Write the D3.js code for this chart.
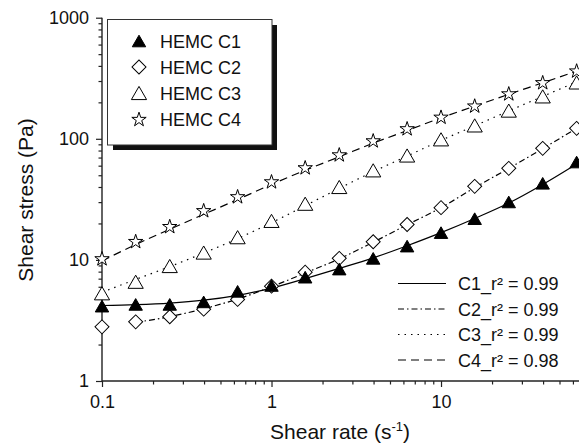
<!DOCTYPE html>
<html><head><meta charset="utf-8">
<script src="https://cdn.jsdelivr.net/npm/d3@7"></script>
<style>
body{margin:0;background:#fff}
svg{display:block}
text{font-family:"Liberation Sans",Arial,Helvetica,sans-serif;fill:#111}
</style>
</head><body>
<svg id="chart" width="579" height="445"></svg>
<script>
// ---- data ----
const shearRate = [0.1, 0.158, 0.251, 0.398, 0.631, 1, 1.58, 2.51, 3.98, 6.31, 10, 15.8, 25.1, 39.8, 63.1];
const hemcC1 = [4.15, 4.29, 4.29, 4.5, 5.5, 6.15, 7.2, 8.4, 10.3, 13.0, 16.8, 21.9, 30.1, 42.9, 64.3];
const hemcC2 = [2.8, 3.08, 3.39, 3.92, 4.72, 6.07, 7.92, 10.3, 14.1, 19.6, 27.0, 40.5, 57.0, 83.4, 122];
const hemcC3 = [5.3, 6.6, 8.9, 11.5, 15.4, 21.0, 29.1, 40.0, 54.9, 72.8, 99, 129, 171, 224, 292];
const hemcC4 = [10.3, 14.3, 19.0, 25.7, 33.5, 44.5, 58.1, 74.3, 97, 122, 152, 188, 237, 293, 366];
// fitted model curves, read at the same shear rates (C2 fit starts at 0.158)
const fitC1 = [4.2, 4.27, 4.4, 4.65, 5.1, 5.85, 7.0, 8.5, 10.4, 13.1, 16.8, 22, 29.5, 42, 62];
const fitC2 = [null, 3.05, 3.4, 3.95, 4.75, 6.0, 7.8, 10.2, 14.0, 19.5, 27, 39.5, 57, 83, 122];
const fitC3 = [5.4, 6.9, 8.8, 11.4, 15.0, 20.3, 28, 39, 53.5, 72, 97, 128, 170, 224, 295];
const fitC4 = [9.8, 13.4, 17.9, 23.8, 31.5, 42, 55, 71, 92, 117, 149, 186, 233, 290, 362];
const seriesNames = ["HEMC C1", "HEMC C2", "HEMC C3", "HEMC C4"];
const fitLabels = ["C1_r\u00B2 = 0.99", "C2_r\u00B2 = 0.99", "C3_r\u00B2 = 0.99", "C4_r\u00B2 = 0.98"];
const yTickValues = [1, 10, 100, 1000];
const xTickValues = [0.1, 1, 10];
const xTickLabels = ["0.1", "1", "10"];
const xTitle = "Shear rate (s";
const yTitle = "Shear stress (Pa)";

// ---- layout ----
const svg = d3.select("#chart");
const X0 = 102, X1 = 579, Y0 = 381, Y1 = 17.7;
const x = d3.scaleLog().domain([0.1, Math.pow(10, 1.814)]).range([X0, X1]);
const y = d3.scaleLog().domain([1, 1000]).range([Y0, Y1]);

const series = [
  {name: seriesNames[0], vals: hemcC1, fit: fitC1, sym: "triFilled", dash: null},
  {name: seriesNames[1], vals: hemcC2, fit: fitC2, sym: "diamond", dash: "6,3,1.5,3"},
  {name: seriesNames[2], vals: hemcC3, fit: fitC3, sym: "triOpen", dash: "1.5,5"},
  {name: seriesNames[3], vals: hemcC4, fit: fitC4, sym: "star", dash: "8,5"}
];

function drawSymbol(g, kind, cx, cy) {
  if (kind === "triFilled" || kind === "triOpen") {
    const size = kind === "triFilled" ? 78 : 100;
    const h = Math.sqrt(size / (3 * Math.sqrt(3)));
    g.append("path")
      .attr("d", d3.symbol(d3.symbolTriangle, size)())
      .attr("transform", `translate(${cx},${cy + h / 2})`)
      .attr("fill", kind === "triFilled" ? "#000" : "#fff")
      .attr("stroke", "#000").attr("stroke-width", 1);
  } else if (kind === "diamond") {
    g.append("path")
      .attr("d", d3.symbol(d3.symbolSquare, 98)())
      .attr("transform", `translate(${cx},${cy}) rotate(45)`)
      .attr("fill", "#fff").attr("stroke", "#000").attr("stroke-width", 1);
  } else if (kind === "star") {
    g.append("path")
      .attr("d", d3.symbol(d3.symbolStar, 64)())
      .attr("transform", `translate(${cx},${cy + 0.7})`)
      .attr("fill", "#fff").attr("stroke", "#000").attr("stroke-width", 1);
  }
}

// ---- axes ----
const majorLen = 6, minorLen = 3.5;
const yMinor = y.ticks().filter(v => !yTickValues.includes(v));
const xMinor = x.ticks().filter(v => !xTickValues.some(t => Math.abs(t - v) < 1e-9));

const gy = svg.append("g").attr("transform", `translate(${X0},0)`);
gy.call(d3.axisLeft(y).tickValues(yMinor).tickSize(minorLen).tickFormat(""));
gy.call(g => g.select(".domain").remove());
const gyM = svg.append("g").attr("transform", `translate(${X0},0)`);
gyM.call(d3.axisLeft(y).tickValues(yTickValues).tickSize(majorLen).tickPadding(7).tickFormat(d3.format("d")));

const gx = svg.append("g").attr("transform", `translate(0,${Y0})`);
gx.call(d3.axisBottom(x).tickValues(xMinor).tickSize(minorLen).tickFormat(""));
gx.call(g => g.select(".domain").remove());
const gxM = svg.append("g").attr("transform", `translate(0,${Y0})`);
gxM.call(d3.axisBottom(x).tickValues(xTickValues).tickSize(majorLen).tickPadding(8)
  .tickFormat((d, i) => xTickLabels[i]));

svg.selectAll(".tick text").attr("font-size", 18).attr("font-family", '"Liberation Sans",Arial,sans-serif').attr("fill", "#111");
svg.selectAll(".tick line").attr("stroke", "#222").attr("stroke-width", 1.2);
svg.selectAll(".domain").attr("stroke", "#222").attr("stroke-width", 1.4);
gxM.select(".domain").attr("d", `M${X0},0H${X1 + 5}`);
gyM.select(".domain").attr("d", `M0,${Y0}V${Y1}`);

// axis titles
const xt = svg.append("text").attr("x", 340).attr("y", 439).attr("text-anchor", "middle").attr("font-size", 21);
xt.append("tspan").text(xTitle);
xt.append("tspan").attr("font-size", 13).attr("dy", -8).text("-1");
xt.append("tspan").attr("dy", 8).text(")");

svg.append("text").attr("transform", "translate(33,200) rotate(-90)")
  .attr("text-anchor", "middle").attr("font-size", 21).text(yTitle);

// ---- fit lines ----
const plot = svg.append("g");
series.forEach(s => {
  const pts = shearRate.map((r, i) => [r, s.fit[i]]).filter(p => p[1] != null);
  const line = d3.line().x(p => x(p[0])).y(p => y(p[1])).curve(d3.curveMonotoneX);
  plot.append("path").attr("d", line(pts)).attr("fill", "none")
    .attr("stroke", "#000").attr("stroke-width", 1.2)
    .attr("stroke-dasharray", s.dash);
});

// ---- markers ----
const markers = svg.append("g");
[series[3], series[2], series[1], series[0]].forEach(s => {
  s.vals.forEach((v, i) => drawSymbol(markers, s.sym, x(shearRate[i]), y(v)));
});

// ---- legend (symbols) ----
const leg = svg.append("g");
leg.append("rect").attr("x", 113).attr("y", 25).attr("width", 164).attr("height", 125).attr("fill", "#111");
leg.append("rect").attr("x", 107.5).attr("y", 19.5).attr("width", 164.5).attr("height", 125.5)
  .attr("fill", "#fff").attr("stroke", "#333").attr("stroke-width", 1);
series.forEach((s, i) => {
  const by = 47.5 + i * 26;
  drawSymbol(leg, s.sym, 139, by - 6.5);
  leg.append("text").attr("x", 160).attr("y", by).attr("font-size", 18).text(s.name);
});

// ---- legend (fits) ----
const leg2 = svg.append("g");
series.forEach((s, i) => {
  const ly = 283.5 + i * 25.5;
  leg2.append("line").attr("x1", 398).attr("x2", 446).attr("y1", ly).attr("y2", ly)
    .attr("stroke", "#000").attr("stroke-width", 1.2).attr("stroke-dasharray", s.dash);
  leg2.append("text").attr("x", 458).attr("y", ly + 6.5).attr("font-size", 18).text(fitLabels[i]);
});
</script>
</body></html>
